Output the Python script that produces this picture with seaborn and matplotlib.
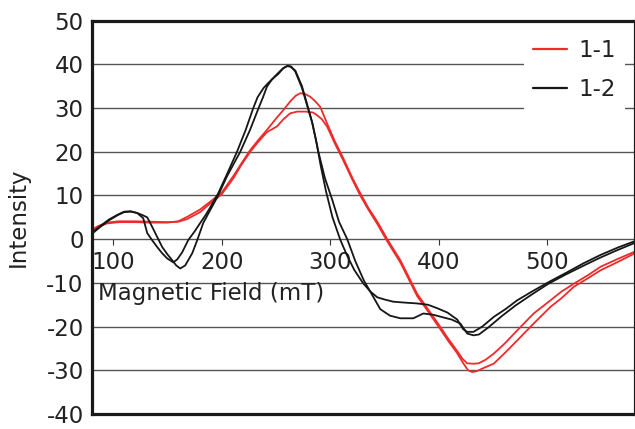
import matplotlib
matplotlib.use("Agg")
import matplotlib.pyplot as plt
import numpy as np
import pandas as pd
import seaborn as sns

# ESR spectra: two samples, each recorded as two sweeps
field_11a = [80.6, 86, 94, 105, 120, 135, 150, 160, 168, 180, 189.4, 200, 210.8, 218, 226.2, 234,
             241.6, 247.7, 252, 256.9, 263, 268, 272.3, 277, 281.5, 286, 290.7, 297, 304, 312, 320,
             327.6, 335, 343.3, 352.5, 364.5, 372, 380, 388, 395, 402, 408.7, 416.7, 421.6, 426, 432,
             436.7, 443, 450.5, 461, 472.1, 487.4, 502.8, 513, 524.3, 537, 549.1, 565, 580]
intensity_11a = [2.0, 2.8, 3.6, 3.9, 3.9, 3.8, 3.8, 4.1, 5.1, 6.8, 8.6, 10.7, 14.5, 17.3, 20.4, 22.8,
                 25.0, 26.9, 28.2, 29.6, 31.5, 32.8, 33.4, 33.2, 32.6, 31.6, 30.3, 26.5, 22.5, 18.5, 14.2,
                 10.5, 7.2, 4.0, 0.0, -4.8, -8.5, -12.5, -15.3, -17.8, -20.3, -22.8, -25.5, -27.3, -28.4, -28.5,
                 -28.4, -27.6, -26.2, -23.8, -20.9, -17.0, -14.0, -12.0, -10.2, -8.3, -6.3, -4.5, -2.9]

field_11b = [80.6, 86, 94, 105, 120, 135, 150, 160, 168, 180, 189.4, 200, 210.8, 218, 226.2, 234,
             241.6, 250.8, 257, 263, 269.5, 277, 284, 287.7, 292, 297, 304, 312, 320, 327.6, 335,
             343.3, 352.5, 364.5, 372, 380, 388, 395, 402, 408.7, 416.7, 422.8, 427, 430.6, 435, 441,
             450.5, 461, 472.1, 487.4, 502.8, 513, 524.3, 537, 549.1, 565, 580]
intensity_11b = [2.2, 3.0, 3.8, 4.1, 4.1, 4.0, 3.9, 4.0, 4.6, 6.2, 8.2, 10.3, 14.0, 17.0, 20.0, 22.4,
                 24.5, 25.8, 27.5, 28.8, 29.2, 29.2, 29.0, 28.4, 27.5, 25.8, 22.0, 18.0, 13.8, 10.0, 6.8,
                 3.5, -0.5, -5.3, -9.0, -13.0, -15.8, -18.3, -20.8, -23.3, -26.0, -28.5, -30.0, -30.4, -30.2, -29.5,
                 -28.5, -26.0, -23.2, -19.3, -15.5, -13.5, -10.9, -9.0, -7.1, -5.2, -3.3]

field_12a = [80.6, 88, 96, 104, 110, 116, 122, 127.6, 131.3, 136, 140.5, 145, 149.7, 155.3, 159, 163.5,
             169.1, 175, 180.1, 185, 189.4, 196.7, 205, 214, 222, 229, 233, 238.5, 243, 247.7, 252,
             256.9, 261, 264, 267.7, 273.9, 278.5, 283.1, 287, 291, 296, 302, 309, 315, 322, 330, 337,
             343.3, 350, 358, 368, 380, 390, 398.6, 408, 417, 422.5, 426, 432, 440, 450.5, 462, 472.1,
             487, 502.8, 518, 533.4, 549, 565, 580]
intensity_12a = [1.5, 3.0, 4.5, 5.6, 6.3, 6.4, 6.0, 4.8, 1.4, -0.3, -1.8, -3.2, -4.4, -5.3, -4.6, -3.0,
                 -0.2, 1.8, 3.7, 5.5, 7.3, 10.5, 15.0, 20.0, 25.0, 30.0, 32.5, 34.6, 35.8, 36.9, 37.8,
                 39.2, 39.7, 39.5, 38.4, 34.6, 30.7, 26.9, 22.5, 17.0, 11.0, 5.0, 0.0, -3.5, -7.0, -10.0, -12.0,
                 -13.3, -13.8, -14.3, -14.5, -14.7, -15.0, -15.8, -16.8, -18.4, -20.6, -21.2, -21.2, -20.0, -17.8,
                 -15.9, -14.0, -11.8, -9.6, -7.6, -5.5, -3.6, -1.9, -0.5]

field_12b = [80.6, 88, 96, 104, 110, 116, 122, 127, 131.3, 135.9, 140.5, 145.1, 150, 154.3, 158, 161.7,
             166.3, 172.8, 177.4, 182.9, 189.4, 195.8, 205, 217, 226, 233.9, 238, 241.6, 246, 251, 256,
             260, 263, 267.7, 273.9, 278.5, 283.5, 289, 295, 301.8, 308, 315.6, 323, 331, 338, 346, 355,
             364.5, 376.5, 385.7, 395, 404.1, 412, 419.8, 426.2, 432, 437, 445.6, 458, 470.5, 486, 500.9,
             516, 532.2, 548, 562.6, 580]
intensity_12b = [1.3, 2.8, 4.3, 5.5, 6.2, 6.3, 6.0, 5.5, 5.0, 2.8, 0.5, -1.8, -3.5, -4.8, -6.0, -6.7,
                 -6.0, -3.2, -0.2, 3.7, 6.7, 9.6, 14.5, 20.0, 25.0, 30.0, 32.5, 34.9, 36.5, 37.8, 39.0,
                 39.6, 39.5, 38.6, 35.0, 31.0, 26.5, 20.0, 14.0, 9.0, 4.0, 0.0, -5.0, -9.5, -12.5, -16.0, -17.5,
                 -18.1, -18.1, -17.0, -17.3, -17.9, -18.4, -19.3, -21.6, -22.0, -21.8, -20.2, -17.6, -15.2, -12.6,
                 -10.2, -8.2, -6.2, -4.3, -2.7, -0.9]

samples = ["1-1", "1-2"]
sample_colors = {"1-1": "#ee2b2b", "1-2": "#161616"}
y_ticks = [-40, -30, -20, -10, 0, 10, 20, 30, 40, 50]
x_ticks = [100, 200, 300, 400, 500]

frames = []
for sample, sweep, fx, iy in [
    ("1-1", "a", field_11a, intensity_11a),
    ("1-1", "b", field_11b, intensity_11b),
    ("1-2", "a", field_12a, intensity_12a),
    ("1-2", "b", field_12b, intensity_12b),
]:
    frames.append(pd.DataFrame({"field": fx, "intensity": iy,
                                "sample": sample, "sweep": sample + sweep}))
df = pd.concat(frames, ignore_index=True)

sns.set_theme(style="white")
plt.rcParams["font.family"] = ["DejaVu Sans"]
FS = 16.5

fig = plt.figure(figsize=(6.35, 4.29), dpi=100)
ax = fig.add_axes([92 / 635, 1 - 414 / 429, 542.5 / 635, 393.3 / 429])

sns.lineplot(data=df, x="field", y="intensity", hue="sample", hue_order=samples,
             units="sweep", estimator=None, sort=False, palette=sample_colors,
             linewidth=1.3, ax=ax)

ax.set_xlim(80.4, 580.3)
ax.set_ylim(-40, 50)
ax.set_yticks(y_ticks)
ax.set_yticklabels([str(v) for v in y_ticks])
ax.tick_params(axis="y", length=0, pad=6, labelsize=FS, labelcolor="#222222")
ax.set_xticks([])
ax.set_xlabel("")
ax.set_ylabel("Intensity", fontsize=FS, color="#222222", labelpad=12)

# horizontal grid
for v in y_ticks[1:-1]:
    ax.axhline(v, color="#555555", linewidth=1.0, zorder=0.5)

for side in ["left", "right", "top", "bottom"]:
    ax.spines[side].set_color("#1a1a1a")
    ax.spines[side].set_linewidth(2.3)

# field axis drawn along the zero line
sec = ax.secondary_xaxis(40 / 90)
sec.set_xticks(x_ticks)
sec.set_xticklabels([str(v) for v in x_ticks])
sec.tick_params(axis="x", direction="out", length=4.5, width=0.8, color="#333333",
                pad=4, labelsize=FS, labelcolor="#222222")
sec.spines["bottom"].set_visible(False)
ax.text(86.0, -14.0, "Magnetic Field (mT)", fontsize=FS, color="#222222",
        ha="left", va="baseline", zorder=3)

handles, labels = ax.get_legend_handles_labels()
leg = ax.legend(handles, labels, loc="upper right", bbox_to_anchor=(0.998, 0.997),
                frameon=True, fontsize=FS, handlelength=1.5, handletextpad=0.5,
                labelspacing=0.7, borderpad=0.25, framealpha=1.0)
leg.get_frame().set_facecolor("white")
leg.get_frame().set_edgecolor("none")
leg.get_frame().set_boxstyle("square", pad=0.15)
for t in leg.get_texts():
    t.set_color("#222222")
for ln in leg.get_lines():
    ln.set_linewidth(1.6)

fig.savefig("out.png", dpi=100)
